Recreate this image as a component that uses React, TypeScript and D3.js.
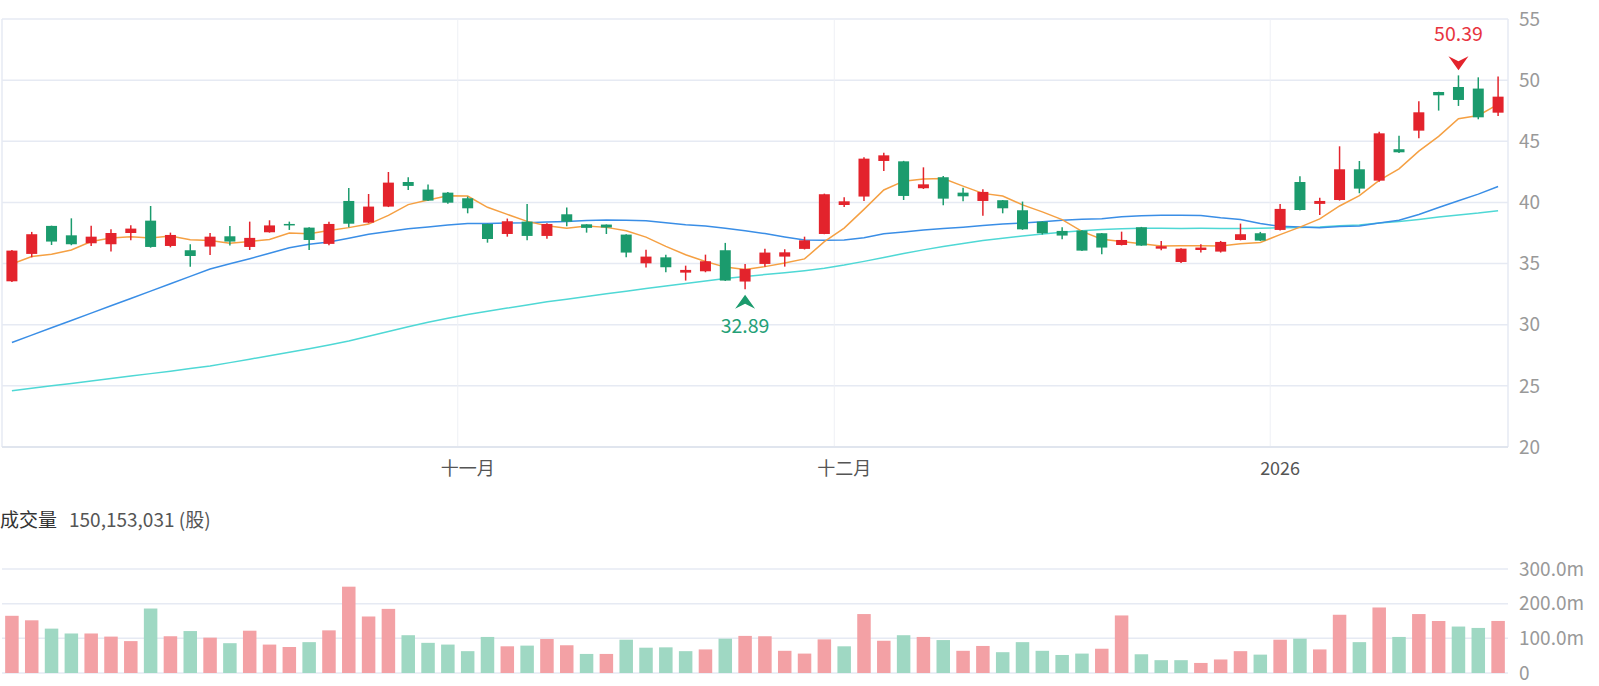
import React from "react";
import * as d3 from "d3";

// daily OHLC, one entry per trading day
const opens = [33.55, 35.79, 38.08, 37.31, 36.66, 36.58, 37.5, 38.51, 36.44, 36.09, 36.39, 37.23, 36.36, 37.56, 38.24, 37.94, 36.61, 40.12, 38.35, 39.66, 41.67, 41.05, 40.8, 40.34, 38.24, 37.42, 38.43, 37.26, 39.03, 38.21, 38.19, 37.37, 35.02, 35.51, 34.26, 34.37, 36.09, 33.53, 34.97, 35.57, 36.2, 37.42, 39.79, 40.48, 43.39, 43.36, 41.16, 42.06, 40.8, 40.12, 40.18, 39.36, 38.43, 37.67, 37.7, 37.48, 36.52, 37.97, 36.22, 35.13, 36.11, 35.98, 36.93, 37.48, 37.75, 41.67, 39.88, 40.2, 42.71, 41.78, 44.35, 45.87, 49.03, 49.44, 49.31, 47.34];
const highs = [36.1, 37.59, 38.1, 38.7, 38.1, 37.8, 38.13, 39.71, 37.53, 36.58, 37.5, 38.08, 38.43, 38.54, 38.43, 37.96, 38.43, 41.18, 40.69, 42.49, 42.06, 41.46, 40.86, 40.48, 38.26, 38.68, 39.88, 38.3, 39.58, 38.22, 38.2, 37.4, 36.14, 35.73, 34.83, 35.73, 36.69, 34.97, 36.22, 36.17, 37.2, 40.72, 40.42, 43.69, 44.07, 43.4, 42.87, 42.17, 41.21, 41.07, 40.2, 40.07, 38.45, 37.97, 37.72, 37.5, 37.61, 38.0, 36.85, 36.25, 36.58, 36.85, 38.27, 37.59, 39.88, 42.14, 40.39, 44.59, 43.39, 45.79, 45.46, 48.27, 49.05, 50.39, 50.23, 50.29];
const lows = [33.5, 35.51, 36.52, 36.5, 36.44, 35.98, 36.9, 36.3, 36.33, 34.75, 35.71, 36.47, 36.11, 37.53, 37.75, 36.11, 36.5, 37.97, 38.3, 39.62, 41.02, 40.12, 39.9, 39.11, 36.71, 37.2, 36.9, 37.04, 38.05, 37.53, 37.42, 35.51, 34.67, 34.29, 33.61, 34.29, 33.58, 32.89, 34.75, 34.75, 36.15, 37.4, 39.63, 40.12, 42.57, 40.2, 41.1, 39.77, 40.09, 38.92, 39.11, 37.76, 37.37, 36.99, 36.03, 35.76, 36.48, 36.45, 36.09, 35.05, 35.9, 35.9, 36.9, 36.85, 37.7, 39.35, 38.98, 40.15, 40.75, 41.7, 44.05, 45.25, 47.51, 47.89, 46.8, 47.07];
const closes = [36.06, 37.4, 36.8, 36.58, 37.2, 37.5, 37.86, 36.36, 37.34, 35.62, 37.2, 36.8, 37.1, 38.12, 38.14, 36.93, 38.24, 38.26, 39.66, 41.62, 41.35, 40.15, 39.98, 39.52, 37.01, 38.46, 37.26, 38.24, 38.43, 37.92, 37.95, 35.9, 35.57, 34.7, 34.48, 35.19, 33.61, 34.56, 35.9, 35.92, 36.9, 40.67, 40.09, 43.58, 43.85, 40.53, 41.48, 40.31, 40.5, 40.86, 39.52, 37.8, 37.48, 37.29, 36.06, 36.31, 36.93, 36.47, 36.42, 36.22, 36.31, 36.77, 37.4, 36.88, 39.47, 39.38, 40.12, 42.71, 41.13, 45.65, 44.1, 47.37, 48.76, 48.38, 46.96, 48.65];
// traded shares, in millions
const volumes = [165, 152, 128, 114, 114, 105, 92, 186, 106, 121, 102, 86, 122, 82, 75, 89, 123, 249, 163, 185, 109, 87, 82, 63, 104, 77, 79, 98, 80, 55, 55, 96, 73, 74, 63, 68, 99, 107, 106, 64, 56, 97, 77, 170, 93, 109, 104, 95, 64, 78, 60, 89, 64, 52, 56, 70, 166, 54, 37, 37, 29, 39, 63, 53, 96, 99, 68, 168, 89, 189, 104, 170, 150, 134, 130, 150.153031];

// moving averages
const ma5 = [34.97, 35.57, 35.76, 36.11, 36.81, 37.1, 37.19, 37.1, 37.25, 36.94, 36.88, 36.66, 36.81, 36.97, 37.49, 37.43, 37.71, 37.94, 38.23, 38.94, 39.82, 40.2, 40.55, 40.52, 39.6, 39.02, 38.45, 38.1, 37.88, 38.07, 37.96, 37.69, 37.16, 36.41, 35.72, 35.17, 34.71, 34.51, 34.75, 35.04, 35.38, 36.79, 37.9, 39.43, 41.02, 41.74, 41.91, 41.95, 41.33, 40.74, 40.53, 39.8, 39.23, 38.59, 37.63, 36.99, 36.81, 36.62, 36.44, 36.46, 36.46, 36.43, 36.63, 36.72, 37.37, 37.98, 38.65, 39.71, 40.56, 41.8, 42.74, 44.19, 45.4, 46.85, 47.11, 48.02];
const ma20 = [28.55, 29.15, 29.75, 30.35, 30.95, 31.55, 32.15, 32.75, 33.35, 33.95, 34.55, 34.98, 35.4, 35.84, 36.3, 36.58, 36.77, 37.07, 37.4, 37.62, 37.85, 38.0, 38.15, 38.27, 38.28, 38.32, 38.33, 38.4, 38.45, 38.52, 38.56, 38.55, 38.5, 38.34, 38.18, 38.07, 37.88, 37.68, 37.45, 37.18, 36.92, 36.9, 36.92, 37.12, 37.43, 37.58, 37.75, 37.87, 37.98, 38.12, 38.23, 38.32, 38.42, 38.54, 38.62, 38.67, 38.82, 38.91, 38.95, 38.96, 38.93, 38.74, 38.6, 38.27, 38.05, 37.99, 37.92, 38.04, 38.07, 38.31, 38.54, 39.02, 39.58, 40.14, 40.68, 41.3];
const ma60 = [24.6, 24.8, 25.0, 25.2, 25.4, 25.6, 25.8, 26.0, 26.2, 26.41, 26.63, 26.9, 27.18, 27.46, 27.74, 28.03, 28.34, 28.67, 29.05, 29.45, 29.84, 30.2, 30.53, 30.84, 31.1, 31.36, 31.62, 31.88, 32.09, 32.31, 32.53, 32.74, 32.96, 33.17, 33.37, 33.58, 33.78, 33.95, 34.1, 34.25, 34.42, 34.62, 34.88, 35.18, 35.5, 35.82, 36.12, 36.4, 36.65, 36.88, 37.08, 37.26, 37.42, 37.56, 37.68, 37.78, 37.85, 37.88, 37.88, 37.87, 37.88, 37.86, 37.87, 37.88, 37.92, 37.95, 37.99, 38.09, 38.16, 38.32, 38.44, 38.61, 38.81, 38.98, 39.13, 39.32];

const priceTicks = [20, 25, 30, 35, 40, 45, 50, 55];
const volumeTicks = [0, 100, 200, 300];
const volumeTickLabels = ["0", "100.0m", "200.0m", "300.0m"];
// first trading day of each month
const monthStarts = [23, 42, 64];
const monthLabels = ["十一月", "十二月", "2026"];

const volumeTitle = "成交量";
const volumeValue = "150,153,031 (股)";

const W = 1599;
const H = 686;
const FONT = "'Noto Sans CJK TC', 'Noto Sans', sans-serif";
const UP = "#e3232c";
const DOWN = "#1b9b6d";
const UP_VOL = "#f3a1a5";
const DOWN_VOL = "#9fd8c3";
const GRID = "#e6eaf3";

export default function App() {
  const left = 2;
  const right = 1508;
  const idx = d3.range(closes.length);

  const x = d3.scaleBand<number>().domain(idx).range([left, right]);
  const bw = x.bandwidth();
  const cx = (i: number) => (x(i) as number) + bw / 2;

  const y = d3.scaleLinear().domain([20, 55]).range([447, 19]);
  const yv = d3.scaleLinear().domain([0, 300]).range([673, 569]);

  const line = d3
    .line<number>()
    .x((_, i) => cx(i))
    .y((d) => y(d));

  const bodyW = 11;
  const volW = 13.5;

  const hiIdx = d3.maxIndex(highs);
  const loIdx = d3.minIndex(lows);
  const hiTip = y(highs[hiIdx]) - 5;
  const loTip = y(lows[loIdx]) + 5.5;
  const hx = cx(hiIdx);
  const lx = cx(loIdx);

  return (
    <svg
      width={W}
      height={H}
      style={{ position: "fixed", left: 0, top: 0, background: "#fff" }}
      fontFamily={FONT}
    >
      {/* price grid */}
      {priceTicks.map((t) => (
        <line key={"g" + t} x1={left} x2={right} y1={y(t)} y2={y(t)} stroke={GRID} strokeWidth={1.5} />
      ))}
      {monthStarts.map((m) => (
        <line key={"m" + m} x1={x(m)} x2={x(m)} y1={y(55)} y2={y(20)} stroke="#eef0f5" strokeWidth={1} />
      ))}
      <line x1={left} x2={left} y1={y(55)} y2={y(20)} stroke={GRID} strokeWidth={1.5} />
      <line x1={right} x2={right} y1={y(55)} y2={y(20)} stroke={GRID} strokeWidth={1.5} />
      <line x1={left} x2={right} y1={y(20)} y2={y(20)} stroke="#dde2eb" strokeWidth={1.5} />

      {priceTicks.map((t) => (
        <text key={"t" + t} x={1519} y={y(t)} dy="0.35em" fontSize={19} fill="#999">
          {t}
        </text>
      ))}
      {monthStarts.map((m, k) => (
        <text key={"ml" + m} x={cx(m)} y={469} dy="0.35em" fontSize={18} fill="#555" textAnchor="middle">
          {monthLabels[k]}
        </text>
      ))}

      {/* moving averages */}
      <path d={line(ma60) ?? ""} fill="none" stroke="#4fd8d5" strokeWidth={1.5} />
      <path d={line(ma20) ?? ""} fill="none" stroke="#3a8ee6" strokeWidth={1.5} />
      <path d={line(ma5) ?? ""} fill="none" stroke="#f5a043" strokeWidth={1.5} />

      {/* candles */}
      {idx.map((i) => {
        const up = closes[i] >= opens[i];
        const c = up ? UP : DOWN;
        const top = y(Math.max(opens[i], closes[i]));
        const bot = y(Math.min(opens[i], closes[i]));
        return (
          <g key={"c" + i}>
            <line x1={cx(i)} x2={cx(i)} y1={y(highs[i])} y2={y(lows[i])} stroke={c} strokeWidth={1.5} />
            <rect x={cx(i) - bodyW / 2} y={top} width={bodyW} height={Math.max(bot - top, 1.5)} fill={c} />
          </g>
        );
      })}

      {/* high / low markers */}
      <path
        d={`M${hx},${hiTip} L${hx - 10},${hiTip - 14} L${hx},${hiTip - 9} L${hx + 10},${hiTip - 14} Z`}
        fill={UP}
      />
      <text x={hx} y={34} dy="0.35em" textAnchor="middle" fontSize={19.5} fill="#e8343e">
        {highs[hiIdx].toFixed(2)}
      </text>
      <path
        d={`M${lx},${loTip} L${lx - 10},${loTip + 14} L${lx},${loTip + 9} L${lx + 10},${loTip + 14} Z`}
        fill={DOWN}
      />
      <text x={lx} y={326} dy="0.35em" textAnchor="middle" fontSize={19.5} fill="#23a076">
        {lows[loIdx].toFixed(2)}
      </text>

      {/* volume panel */}
      <text x={0} y={520} dy="0.35em" fontSize={19} fill="#333">
        {volumeTitle}
        <tspan dx={12} fill="#555">{volumeValue}</tspan>
      </text>
      {volumeTicks.map((t, k) => (
        <g key={"v" + t}>
          <line x1={left} x2={right} y1={yv(t)} y2={yv(t)} stroke={GRID} strokeWidth={1.5} />
          <text x={1519} y={yv(t)} dy="0.35em" fontSize={19} fill="#999">
            {volumeTickLabels[k]}
          </text>
        </g>
      ))}
      {idx.map((i) => {
        const up = i === 0 ? closes[i] >= opens[i] : closes[i] >= closes[i - 1];
        return (
          <rect
            key={"v" + i}
            x={cx(i) - volW / 2}
            y={yv(volumes[i])}
            width={volW}
            height={yv(0) - yv(volumes[i])}
            fill={up ? UP_VOL : DOWN_VOL}
          />
        );
      })}
    </svg>
  );
}
